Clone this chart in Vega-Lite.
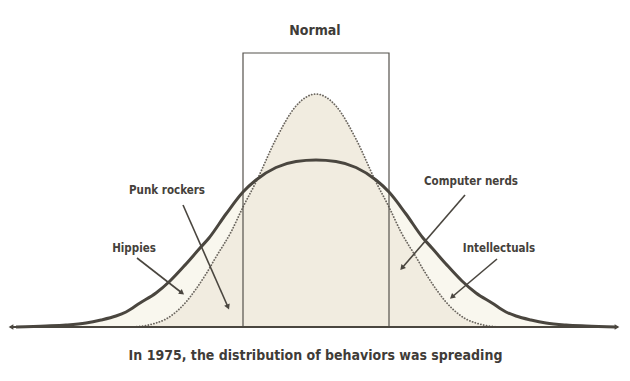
{
  "$schema": "https://vega.github.io/schema/vega-lite/v6.json",
  "width": 630,
  "height": 282,
  "autosize": {"type": "none"},
  "padding": {"left": 0, "right": 0, "top": 45, "bottom": 54},
  "background": "white",
  "title": {"text": "Normal", "font": "DejaVu Sans Condensed, Liberation Sans Narrow, sans-serif", "fontSize": 14, "fontWeight": "bold", "color": "#3f3c38", "anchor": "middle", "offset": 7},
  "config": {"view": {"stroke": null}},
  "datasets": {
    "spread": [
      {"x": -6.0, "y": 0}, {"x": -5.4, "y": 0.01}, {"x": -5.0, "y": 0.02}, {"x": -4.6, "y": 0.04}, {"x": -4.3, "y": 0.07}, {"x": -4.0, "y": 0.11}, {"x": -3.8, "y": 0.15}, {"x": -3.52, "y": 0.24}, {"x": -3.2, "y": 0.34}, {"x": -2.92, "y": 0.46}, {"x": -2.6, "y": 0.63}, {"x": -2.32, "y": 0.79}, {"x": -2.14, "y": 0.89}, {"x": -1.8, "y": 1.13}, {"x": -1.46, "y": 1.35}, {"x": -1.2, "y": 1.47}, {"x": -0.8, "y": 1.595}, {"x": -0.4, "y": 1.655},
      {"x": 0, "y": 1.67},
      {"x": 0.4, "y": 1.655}, {"x": 0.8, "y": 1.595}, {"x": 1.2, "y": 1.47}, {"x": 1.46, "y": 1.35}, {"x": 1.8, "y": 1.13}, {"x": 2.14, "y": 0.89}, {"x": 2.32, "y": 0.79}, {"x": 2.6, "y": 0.63}, {"x": 2.92, "y": 0.46}, {"x": 3.2, "y": 0.34}, {"x": 3.52, "y": 0.24}, {"x": 3.8, "y": 0.15}, {"x": 4.0, "y": 0.11}, {"x": 4.3, "y": 0.07}, {"x": 4.6, "y": 0.04}, {"x": 5.0, "y": 0.02}, {"x": 5.4, "y": 0.01}, {"x": 6.0, "y": 0}
    ],
    "normal": [
      {"x": -3.7, "y": 0}, {"x": -3.4, "y": 0.015}, {"x": -3.2, "y": 0.04}, {"x": -3.0, "y": 0.08}, {"x": -2.8, "y": 0.15}, {"x": -2.6, "y": 0.25}, {"x": -2.4, "y": 0.38}, {"x": -2.2, "y": 0.53}, {"x": -2.0, "y": 0.7}, {"x": -1.7, "y": 0.95}, {"x": -1.46, "y": 1.2}, {"x": -1.2, "y": 1.45}, {"x": -0.8, "y": 1.88}, {"x": -0.4, "y": 2.21},
      {"x": 0, "y": 2.33},
      {"x": 0.4, "y": 2.21}, {"x": 0.8, "y": 1.88}, {"x": 1.2, "y": 1.45}, {"x": 1.46, "y": 1.2}, {"x": 1.7, "y": 0.95}, {"x": 2.0, "y": 0.7}, {"x": 2.2, "y": 0.53}, {"x": 2.4, "y": 0.38}, {"x": 2.6, "y": 0.25}, {"x": 2.8, "y": 0.15}, {"x": 3.0, "y": 0.08}, {"x": 3.2, "y": 0.04}, {"x": 3.4, "y": 0.015}, {"x": 3.7, "y": 0}
    ],
    "box": [{"x": -1.46, "x2": 1.46, "y": 0, "y2": 2.74}],
    "baseline": [{"x": -6.12, "x2": 6.04, "y": 0}],
    "ends": [{"x": -6.1, "y": 0, "end": "left"}, {"x": 6.02, "y": 0, "end": "right"}],
    "notes": [
      {"label": "Hippies", "tx": -3.64, "ty": 0.78, "x": -3.58, "y": 0.69, "x2": -2.68, "y2": 0.34},
      {"label": "Punk rockers", "tx": -2.98, "ty": 1.36, "x": -2.66, "y": 1.22, "x2": -1.76, "y2": 0.2},
      {"label": "Computer nerds", "tx": 3.1, "ty": 1.45, "x": 2.98, "y": 1.32, "x2": 1.72, "y2": 0.59},
      {"label": "Intellectuals", "tx": 3.66, "ty": 0.78, "x": 3.62, "y": 0.68, "x2": 2.72, "y2": 0.3}
    ]
  },
  "layer": [
    {
      "data": {"name": "spread"},
      "mark": {"type": "area", "color": "#f9f7ee", "interpolate": "monotone"},
      "encoding": {
        "x": {"field": "x", "type": "quantitative", "scale": {"domain": [-6.32, 6.28], "nice": false, "zero": false}, "axis": {"title": "In 1975, the distribution of behaviors was spreading", "domain": false, "ticks": false, "labels": false, "grid": false, "titleFont": "DejaVu Sans Condensed, Liberation Sans Narrow, sans-serif", "titleFontSize": 14, "titleFontWeight": "bold", "titleColor": "#3f3c38", "titlePadding": 21}},
        "y": {"field": "y", "type": "quantitative", "scale": {"domain": [0, 2.82], "nice": false, "zero": false}, "axis": null}
      }
    },
    {
      "data": {"name": "normal"},
      "mark": {"type": "area", "color": "#f1ece0", "interpolate": "monotone"},
      "encoding": {
        "x": {"field": "x", "type": "quantitative"},
        "y": {"field": "y", "type": "quantitative"}
      }
    },
    {
      "data": {"name": "normal"},
      "mark": {"type": "line", "color": "#6b665f", "strokeWidth": 1.8, "strokeDash": [0.1, 2.8], "strokeCap": "round", "interpolate": "monotone"},
      "encoding": {
        "x": {"field": "x", "type": "quantitative"},
        "y": {"field": "y", "type": "quantitative"}
      }
    },
    {
      "data": {"name": "box"},
      "mark": {"type": "rect", "filled": false, "stroke": "#55524c", "strokeWidth": 1.2},
      "encoding": {
        "x": {"field": "x", "type": "quantitative"},
        "x2": {"field": "x2"},
        "y": {"field": "y", "type": "quantitative"},
        "y2": {"field": "y2"}
      }
    },
    {
      "data": {"name": "spread"},
      "mark": {"type": "line", "color": "#4a463f", "strokeWidth": 3, "interpolate": "monotone"},
      "encoding": {
        "x": {"field": "x", "type": "quantitative"},
        "y": {"field": "y", "type": "quantitative"}
      }
    },
    {
      "data": {"name": "baseline"},
      "mark": {"type": "rule", "color": "#4a463f", "strokeWidth": 2.2},
      "encoding": {
        "x": {"field": "x", "type": "quantitative"},
        "x2": {"field": "x2"},
        "y": {"field": "y", "type": "quantitative"}
      }
    },
    {
      "data": {"name": "ends"},
      "mark": {"type": "point", "filled": true, "color": "#4a463f", "size": 30, "opacity": 1},
      "encoding": {
        "x": {"field": "x", "type": "quantitative"},
        "y": {"field": "y", "type": "quantitative"},
        "shape": {"field": "end", "type": "nominal", "scale": {"domain": ["left", "right"], "range": ["triangle-left", "triangle-right"]}, "legend": null}
      }
    },
    {
      "data": {"name": "notes"},
      "mark": {"type": "rule", "color": "#4a463f", "strokeWidth": 1.6},
      "encoding": {
        "x": {"field": "x", "type": "quantitative"},
        "y": {"field": "y", "type": "quantitative"},
        "x2": {"field": "x2"},
        "y2": {"field": "y2"}
      }
    },
    {
      "data": {"name": "notes"},
      "transform": [{"calculate": "atan2(50*(datum.x2-datum.x), 100*(datum.y2-datum.y))*180/PI", "as": "angle"}],
      "mark": {"type": "point", "shape": "triangle-up", "filled": true, "color": "#4a463f", "size": 36, "opacity": 1},
      "encoding": {
        "x": {"field": "x2", "type": "quantitative"},
        "y": {"field": "y2", "type": "quantitative"},
        "angle": {"field": "angle", "type": "quantitative", "scale": null}
      }
    },
    {
      "data": {"name": "notes"},
      "mark": {"type": "text", "font": "DejaVu Sans Condensed, Liberation Sans Narrow, sans-serif", "fontSize": 11.5, "fontWeight": "bold", "color": "#45413b", "align": "center", "baseline": "middle"},
      "encoding": {
        "x": {"field": "tx", "type": "quantitative"},
        "y": {"field": "ty", "type": "quantitative"},
        "text": {"field": "label"}
      }
    }
  ]
}
